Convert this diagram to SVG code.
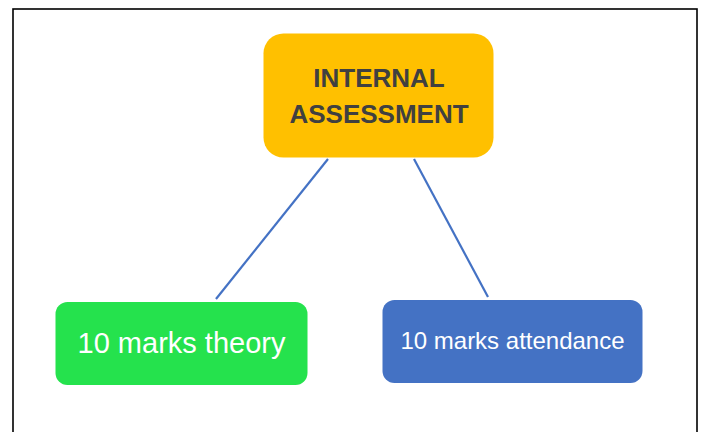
<svg xmlns="http://www.w3.org/2000/svg" width="705" height="432" viewBox="0 0 705 432">
<style>
.frame{fill:#ffffff;stroke:#000000;stroke-width:1.6}
.edge{stroke:#4472C4;stroke-width:2.2;fill:none}
.t{font-family:"Liberation Sans",Arial,sans-serif;text-anchor:middle}
.title{font-weight:bold;fill:#404040;font-size:26px}
.lbl{fill:#ffffff}
</style>
<rect x="0" y="0" width="705" height="432" fill="#ffffff"/>
<rect class="frame" x="13" y="9" width="684" height="440"/>
<g id="connectors">
<line class="edge" x1="328" y1="159" x2="216" y2="299"/>
<line class="edge" x1="414" y1="159" x2="488" y2="297"/>
</g>
<g id="internal-assessment">
<rect x="263.5" y="33.5" width="230" height="124" rx="20" fill="#FFC000"/>
<text class="t title" x="379" y="87">INTERNAL</text>
<text class="t title" x="379" y="123">ASSESSMENT</text>
</g>
<g id="theory">
<rect x="55.5" y="302" width="252" height="83" rx="12" fill="#25E24D"/>
<text class="t lbl" x="181.5" y="353" font-size="29">10 marks theory</text>
</g>
<g id="attendance">
<rect x="382.5" y="300" width="260" height="83" rx="12" fill="#4472C4"/>
<text class="t lbl" x="512.5" y="349" font-size="24">10 marks attendance</text>
</g>
</svg>
